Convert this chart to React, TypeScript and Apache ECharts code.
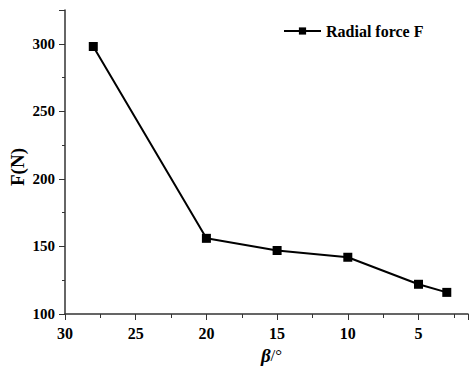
import React, { useEffect, useRef } from "react";
import * as echarts from "echarts";

const betaValues = [28, 20, 15, 10, 5, 3];
const forceValues = [298, 156, 147, 142, 122, 116];
const xMajorTicks = [30, 25, 20, 15, 10, 5];
const yMajorTicks = [100, 150, 200, 250, 300];
const seriesName = "Radial force F";

const FONT = "Liberation Serif";

export default function App() {
  const ref = useRef<HTMLDivElement>(null);
  useEffect(() => {
    if (!ref.current) return;
    const chart = echarts.init(ref.current, undefined, { renderer: "svg" });
    const axisColor = "#333";
    chart.setOption({
      animation: false,
      backgroundColor: "#fff",
      grid: { left: 65, top: 10, right: 1, bottom: 52, outerBoundsMode: "none", containLabel: false },
      legend: {
        data: [seriesName],
        left: 278,
        top: 18,
        itemWidth: 37,
        itemHeight: 9,
        itemGap: 4,
        textStyle: { fontFamily: FONT, fontWeight: "bold", fontSize: 16, color: "#000" },
      },
      xAxis: {
        type: "value",
        inverse: true,
        min: 1.5,
        max: 30,
        splitNumber: 6,
        splitLine: { show: false },
        axisLine: { lineStyle: { color: axisColor, width: 1.5 } },
        axisTick: { show: true, length: 6, lineStyle: { color: axisColor } },
        minorTick: { show: true, splitNumber: 2, length: 4, lineStyle: { color: axisColor } },
        axisLabel: {
          formatter: (v: number) => (xMajorTicks.includes(v) ? String(v) : ""),
          margin: 11,
          fontFamily: FONT,
          fontWeight: "bold",
          fontSize: 16,
          color: "#000",
        },
        name: "{b|β}{s|/°}",
        nameLocation: "middle",
        nameGap: 31,
        nameTextStyle: {
          rich: {
            b: { fontFamily: FONT, fontStyle: "italic", fontWeight: "bold", fontSize: 19, color: "#000" },
            s: { fontFamily: FONT, fontWeight: "normal", fontSize: 17, color: "#000" },
          },
          padding: [0, 0, 0, 10],
        },
      },
      yAxis: {
        type: "value",
        min: 100,
        max: 325,
        interval: 50,
        splitLine: { show: false },
        axisLine: { show: true, lineStyle: { color: axisColor, width: 1.5 } },
        axisTick: { show: true, length: 6, lineStyle: { color: axisColor } },
        minorTick: { show: true, splitNumber: 2, length: 3, lineStyle: { color: axisColor } },
        axisLabel: {
          formatter: (v: number) => (yMajorTicks.includes(v) ? String(v) : ""),
          margin: 10,
          fontFamily: FONT,
          fontWeight: "bold",
          fontSize: 15,
          color: "#000",
        },
      },
      graphic: [
        {
          type: "text",
          x: 17,
          y: 167,
          rotation: Math.PI / 2,
          style: {
            text: "F(N)",
            fontFamily: FONT,
            fontWeight: "bold",
            fontSize: 19,
            fill: "#000",
            textAlign: "center",
            textVerticalAlign: "middle",
          },
        },
      ],
      series: [
        {
          name: seriesName,
          type: "line",
          data: betaValues.map((b, i) => [b, forceValues[i]]),
          symbol: "rect",
          symbolSize: 9,
          lineStyle: { color: "#000", width: 2 },
          itemStyle: { color: "#000" },
        },
      ],
    });
    return () => chart.dispose();
  }, []);
  return <div ref={ref} style={{ width: 469, height: 366, position: "absolute", left: 0, top: 0 }} />;
}
